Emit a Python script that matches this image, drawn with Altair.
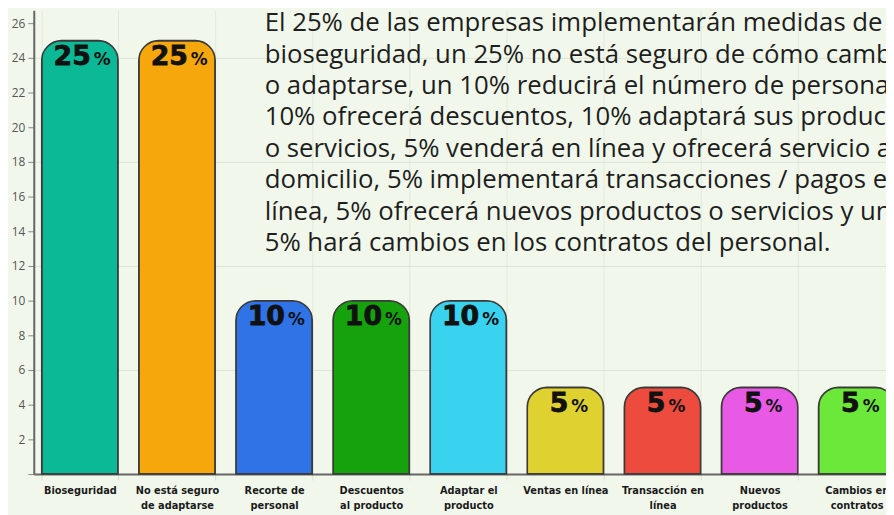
import altair as alt
import pandas as pd

categories = [
    "Bioseguridad",
    "No está seguro|de adaptarse",
    "Recorte de|personal",
    "Descuentos|al producto",
    "Adaptar el|producto",
    "Ventas en línea",
    "Transacción en|línea",
    "Nuevos|productos",
    "Cambios en|contratos",
]
values = [25, 25, 10, 10, 10, 5, 5, 5, 5]
colors = ["#0cb997", "#f5a70c", "#2f73e6", "#16a20c", "#39d3ef",
          "#dfd12f", "#ec4b3e", "#e85ae6", "#6be83a"]
y_ticks = list(range(0, 27, 2))
paragraph = [
    "El 25% de las empresas implementarán medidas de",
    "bioseguridad, un 25% no está seguro de cómo cambiar",
    "o adaptarse, un 10% reducirá el número de personal,",
    "10% ofrecerá descuentos, 10% adaptará sus productos",
    "o servicios, 5% venderá en línea y ofrecerá servicio a",
    "domicilio, 5% implementará transacciones / pagos en",
    "línea, 5% ofrecerá nuevos productos o servicios y un",
    "5% hará cambios en los contratos del personal.",
]

df = pd.DataFrame({"cat": categories, "val": values})

y_scale = alt.Scale(domain=[0, 26.75], nice=False, zero=True)
x_scale = alt.Scale(range=[0, 877], paddingInner=0.214, paddingOuter=0.082)

x_enc = alt.X(
    "cat:N", sort=categories, scale=x_scale, title=None,
    axis=alt.Axis(
        labelExpr="split(datum.label, '|')",
        labelAngle=0, labelFont="'DejaVu Sans Condensed', 'Liberation Sans Narrow', Roboto",
        labelFontWeight="bold",
        labelFontSize=11, labelColor="#1a1a1a", labelLineHeight=15,
        labelBaseline="top", labelPadding=5, labelOverlap=False, labelBound=False,
        domainColor="#666666", domainWidth=2,
        tickBand="extent", tickColor="#d9e1d0", tickSize=6,
        grid=True, gridColor="#e2e9da", gridWidth=1,
    ),
)

y_enc = alt.Y(
    "val:Q", scale=y_scale, title=None,
    axis=alt.Axis(values=y_ticks,
                  labelExpr="datum.value == 0 ? '' : datum.label",
                  labelOverlap=False, labelFlush=False,
                  grid=True, gridColor="#dde5d4",
                  gridOpacity={"condition": {"test": "datum.value > 0 && datum.value % 6 == 0", "value": 1}, "value": 0},
                  domainColor="#666666", domainWidth=2,
                  tickColor="#888888", tickSize=6, labelColor="#555555",
                  labelFont="Open Sans", labelFontSize=12, labelPadding=3),
)

base = alt.Chart(df).encode(x=x_enc, y=y_enc)

bars = base.mark_bar(
    cornerRadiusTopLeft=20, cornerRadiusTopRight=20,
    stroke="#3a3a3a", strokeWidth=1.6,
).encode(
    color=alt.Color("cat:N", scale=alt.Scale(domain=categories, range=colors), legend=None),
)

nums = base.mark_text(
    font="DejaVu Sans", fontWeight="bold", fontSize=27, align="right",
    baseline="alphabetic", dy=25, color="#111111", stroke="#111111", strokeWidth=0.8,
).transform_calculate(
    off="length(toString(datum.val)) > 1 ? 49.5 : 41.5"
).encode(
    xOffset=alt.XOffset("off:Q", scale=None),
    text=alt.Text("val:Q"),
)

pct = base.mark_text(
    font="DejaVu Sans", fontWeight="bold", fontSize=17, align="left",
    baseline="alphabetic", dy=25, color="#111111",
).transform_calculate(
    off="length(toString(datum.val)) > 1 ? 52.5 : 44.5",
    p="'%'",
).encode(
    xOffset=alt.XOffset("off:Q", scale=None),
    text="p:N",
)

para = alt.Chart(pd.DataFrame({"a": [0]})).mark_text(
    font="Open Sans", fontSize=26, align="left", baseline="alphabetic",
    lineHeight=31.7, color="#1e1e1e",
).encode(
    x=alt.value(233), y=alt.value(21), text=alt.value(paragraph)
)

chart = alt.layer(bars, nums, pct, para).properties(
    width=860, height=468,
    autosize=alt.AutoSizeParams(type="none"),
    padding={"left": 26, "top": 0, "right": 0, "bottom": 39},
    background="#f1f8eb",
).configure_view(stroke=None)

chart.save("out.html", embed_options={"renderer": "svg", "actions": False})
